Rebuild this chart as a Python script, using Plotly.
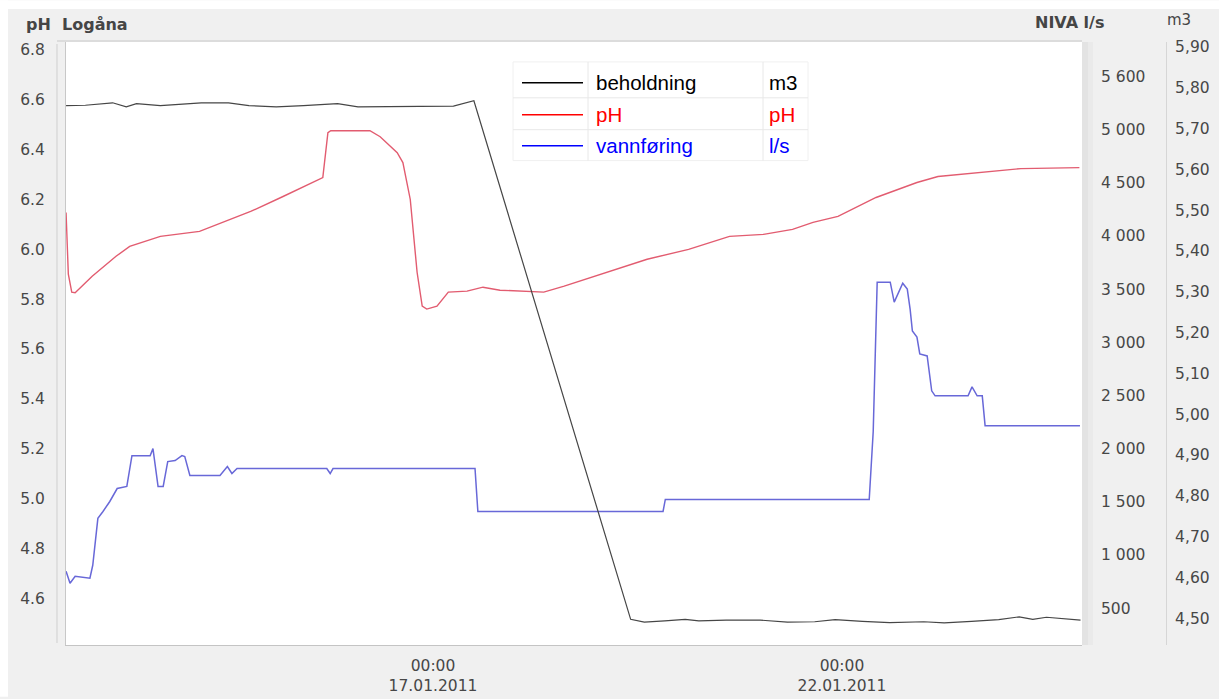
import plotly.graph_objects as go

# ---------------------------------------------------------------
# Measured series, Logåna station
# ---------------------------------------------------------------
# beholdning (storage), plotted on the "m3" axis
beh_time = [
    "2011-01-12 12:20", "2011-01-12 18:00", "2011-01-13 02:00", "2011-01-13 06:00",
    "2011-01-13 09:00", "2011-01-13 16:00", "2011-01-14 04:00", "2011-01-14 12:00",
    "2011-01-14 18:00", "2011-01-15 02:00", "2011-01-15 10:00", "2011-01-15 20:00",
    "2011-01-16 02:00", "2011-01-16 10:00", "2011-01-16 20:00", "2011-01-17 06:00",
    "2011-01-17 12:00", "2011-01-19 10:00", "2011-01-19 14:00", "2011-01-19 20:00",
    "2011-01-20 02:00", "2011-01-20 06:00", "2011-01-20 14:00", "2011-01-21 00:00",
    "2011-01-21 08:00", "2011-01-21 16:00", "2011-01-21 22:00", "2011-01-22 06:00",
    "2011-01-22 14:00", "2011-01-23 00:00", "2011-01-23 06:00", "2011-01-23 14:00",
    "2011-01-23 22:00", "2011-01-24 04:00", "2011-01-24 08:00", "2011-01-24 12:00",
    "2011-01-24 22:00",
]
beh_m3 = [
    5.756, 5.757, 5.763, 5.753,
    5.761, 5.756, 5.763, 5.763,
    5.756, 5.753, 5.756, 5.761,
    5.753, 5.753, 5.754, 5.755,
    5.768, 4.497, 4.490, 4.493,
    4.497, 4.493, 4.495, 4.495,
    4.490, 4.491, 4.496, 4.492,
    4.489, 4.491, 4.488, 4.492,
    4.496, 4.503, 4.497, 4.502,
    4.495,
]

# pH, plotted on the left axis
ph_time = [
    "2011-01-12 12:20", "2011-01-12 13:00", "2011-01-12 14:00", "2011-01-12 15:00",
    "2011-01-12 20:00", "2011-01-13 03:00", "2011-01-13 07:00", "2011-01-13 16:00",
    "2011-01-14 03:30", "2011-01-14 10:30", "2011-01-14 18:30", "2011-01-15 04:00",
    "2011-01-15 13:00", "2011-01-15 15:40", "2011-01-15 17:10", "2011-01-15 18:00",
    "2011-01-16 05:30", "2011-01-16 08:30", "2011-01-16 13:30", "2011-01-16 15:10",
    "2011-01-16 17:20", "2011-01-16 19:20", "2011-01-16 20:50", "2011-01-16 22:10",
    "2011-01-17 01:10", "2011-01-17 04:30", "2011-01-17 10:00", "2011-01-17 14:40",
    "2011-01-17 19:40", "2011-01-18 08:30", "2011-01-18 14:30", "2011-01-19 02:50",
    "2011-01-19 14:50", "2011-01-20 03:00", "2011-01-20 15:00", "2011-01-21 01:00",
    "2011-01-21 09:30", "2011-01-21 15:30", "2011-01-21 22:50", "2011-01-22 10:00",
    "2011-01-22 22:00", "2011-01-23 04:10", "2011-01-23 16:10", "2011-01-24 04:30",
    "2011-01-24 21:40",
]
ph_value = [
    6.148, 5.900, 5.828, 5.826,
    5.892, 5.972, 6.012, 6.052,
    6.072, 6.108, 6.152, 6.212,
    6.272, 6.288, 6.468, 6.476,
    6.476, 6.452, 6.388, 6.348,
    6.200, 5.908, 5.772, 5.760,
    5.772, 5.828, 5.832, 5.848,
    5.836, 5.828, 5.852, 5.908,
    5.960, 6.000, 6.052, 6.060,
    6.080, 6.108, 6.132, 6.208,
    6.268, 6.292, 6.308, 6.324,
    6.328,
]

# vannføring (discharge), plotted on the NIVA l/s axis
flow_time = [
    "2011-01-12 12:20", "2011-01-12 13:30", "2011-01-12 15:00", "2011-01-12 19:20",
    "2011-01-12 20:10", "2011-01-12 21:40", "2011-01-12 23:10", "2011-01-13 01:10",
    "2011-01-13 03:20", "2011-01-13 06:10", "2011-01-13 07:40", "2011-01-13 13:00",
    "2011-01-13 13:50", "2011-01-13 15:20", "2011-01-13 16:50", "2011-01-13 18:10",
    "2011-01-13 20:20", "2011-01-13 22:20", "2011-01-13 23:10", "2011-01-14 00:40",
    "2011-01-14 09:30", "2011-01-14 11:40", "2011-01-14 13:00", "2011-01-14 14:30",
    "2011-01-15 16:50", "2011-01-15 17:50", "2011-01-15 18:40", "2011-01-17 12:20",
    "2011-01-17 13:10", "2011-01-19 19:30", "2011-01-19 20:10", "2011-01-22 08:00",
    "2011-01-22 09:10", "2011-01-22 10:00", "2011-01-22 10:20", "2011-01-22 14:10",
    "2011-01-22 15:20", "2011-01-22 17:50", "2011-01-22 19:10", "2011-01-22 20:00",
    "2011-01-22 20:40", "2011-01-22 22:00", "2011-01-22 22:50", "2011-01-23 01:00",
    "2011-01-23 02:20", "2011-01-23 03:20", "2011-01-23 13:00", "2011-01-23 14:10",
    "2011-01-23 15:40", "2011-01-23 17:10", "2011-01-23 18:00", "2011-01-24 21:50",
]
flow_ls = [
    847, 734, 800, 781,
    903, 1344, 1409, 1503,
    1625, 1644, 1934, 1934,
    2000, 1644, 1644, 1878,
    1888, 1934, 1925, 1747,
    1747, 1831, 1766, 1813,
    1813, 1766, 1813, 1813,
    1409, 1409, 1522, 1522,
    2159, 3313, 3566, 3566,
    3378, 3556, 3500, 3313,
    3106, 3050, 2891, 2872,
    2544, 2497, 2497, 2581,
    2497, 2497, 2216, 2216,
]

# Legend table: name, unit, text colour, line colour
series_names = ["beholdning", "pH", "vannføring"]
series_units = ["m3", "pH", "l/s"]
legend_colors = ["#000000", "#ff0000", "#0000ff"]
line_colors = ["rgb(70,70,70)", "rgb(226,92,112)", "rgb(104,104,216)"]

# Axis ticks
ph_ticks = [4.6, 4.8, 5.0, 5.2, 5.4, 5.6, 5.8, 6.0, 6.2, 6.4, 6.6, 6.8]
flow_tick_values = [500, 1000, 1500, 2000, 2500, 3000, 3500, 4000, 4500, 5000, 5500]
flow_tick_text = ["500", "1 000", "1 500", "2 000", "2 500", "3 000", "3 500",
                  "4 000", "4 500", "5 000", "5 600"]
m3_tick_values = [4.5, 4.6, 4.7, 4.8, 4.9, 5.0, 5.1, 5.2, 5.3, 5.4, 5.5, 5.6, 5.7, 5.8, 5.9]
m3_tick_text = ["4,50", "4,60", "4,70", "4,80", "4,90", "5,00", "5,10", "5,20",
                "5,30", "5,40", "5,50", "5,60", "5,70", "5,80", "5,90"]
x_tick_values = ["2011-01-17 00:00", "2011-01-22 00:00"]
x_tick_text = ["00:00<br>17.01.2011", "00:00<br>22.01.2011"]

# ---------------------------------------------------------------
# Page geometry (pixels)
# ---------------------------------------------------------------
W, H = 1219, 699
ML, MR, MT, MB = 66, 4, 42, 52
PW, PH = W - ML - MR, H - MT - MB
PLOT_RIGHT = 1082


def px_x(px):
    return (px - ML) / PW


def px_y(py):
    return (H - MB - py) / PH


TICK_FONT = dict(family="DejaVu Sans, Arial", size=15.5, color="#474747")
LEG_FONT = "Liberation Sans, Arial"

fig = go.Figure()

fig.add_trace(go.Scatter(x=beh_time, y=beh_m3, mode="lines", yaxis="y3",
                         name=series_names[0],
                         line=dict(color=line_colors[0], width=1.2)))
fig.add_trace(go.Scatter(x=ph_time, y=ph_value, mode="lines", yaxis="y",
                         name=series_names[1],
                         line=dict(color=line_colors[1], width=1.4)))
fig.add_trace(go.Scatter(x=flow_time, y=flow_ls, mode="lines", yaxis="y2",
                         name=series_names[2],
                         line=dict(color=line_colors[2], width=1.5)))

shapes = []
# white outer strips along top and left
shapes.append(dict(type="rect", xref="paper", yref="paper", layer="below",
                   x0=px_x(0), x1=px_x(W), y0=px_y(9), y1=px_y(0),
                   fillcolor="white", line=dict(width=0)))
shapes.append(dict(type="rect", xref="paper", yref="paper", layer="below",
                   x0=px_x(0), x1=px_x(8), y0=px_y(H), y1=px_y(0),
                   fillcolor="white", line=dict(width=0)))
# frame lines around the plot area
shapes.append(dict(type="line", xref="paper", yref="paper",
                   x0=px_x(57), x1=px_x(57), y0=px_y(645), y1=px_y(44),
                   line=dict(color="#cfcfcf", width=1)))
shapes.append(dict(type="line", xref="paper", yref="paper",
                   x0=px_x(57), x1=px_x(PLOT_RIGHT), y0=px_y(41), y1=px_y(41),
                   line=dict(color="#dcdcdc", width=2)))
shapes.append(dict(type="rect", xref="paper", yref="paper",
                   x0=px_x(PLOT_RIGHT), x1=px_x(PLOT_RIGHT + 6), y0=0, y1=1,
                   fillcolor="#e3e3e3", line=dict(width=0)))
shapes.append(dict(type="rect", xref="paper", yref="paper",
                   x0=px_x(PLOT_RIGHT + 6), x1=px_x(PLOT_RIGHT + 11), y0=0, y1=1,
                   fillcolor="#eaeaea", line=dict(width=0)))

# legend table
LEG_L, LEG_R, LEG_T, LEG_B = 513, 808, 62, 161
ROW_Y = [83, 115, 146]
SEP_Y = [98, 130]
COL_X = [588, 763]
shapes.append(dict(type="rect", xref="paper", yref="paper", layer="above",
                   x0=px_x(LEG_L), x1=px_x(LEG_R), y0=px_y(LEG_B), y1=px_y(LEG_T),
                   fillcolor="white", line=dict(color="#f0f0f0", width=1)))
for sy in SEP_Y:
    shapes.append(dict(type="line", xref="paper", yref="paper", layer="above",
                       x0=px_x(LEG_L), x1=px_x(LEG_R), y0=px_y(sy), y1=px_y(sy),
                       line=dict(color="#e8e8e8", width=1)))
for cx in COL_X:
    shapes.append(dict(type="line", xref="paper", yref="paper", layer="above",
                       x0=px_x(cx), x1=px_x(cx), y0=px_y(LEG_B), y1=px_y(LEG_T),
                       line=dict(color="#e8e8e8", width=1)))

annotations = []
for name, unit, tc, ry in zip(series_names, series_units, legend_colors, ROW_Y):
    shapes.append(dict(type="line", xref="paper", yref="paper", layer="above",
                       x0=px_x(522), x1=px_x(583), y0=px_y(ry), y1=px_y(ry),
                       line=dict(color=tc, width=1.5)))
    annotations.append(dict(xref="paper", yref="paper", x=px_x(594), y=px_y(ry),
                            text=name, showarrow=False, xanchor="left", yanchor="middle",
                            font=dict(family=LEG_FONT, size=20.5, color=tc)))
    annotations.append(dict(xref="paper", yref="paper", x=px_x(767), y=px_y(ry),
                            text=unit, showarrow=False, xanchor="left", yanchor="middle",
                            font=dict(family=LEG_FONT, size=20.5, color=tc)))

# axis headers
HEAD_FONT = dict(family="DejaVu Sans, Arial", size=16, color="#454545", weight="bold")
annotations.append(dict(xref="paper", yref="paper", x=px_x(24), y=px_y(24),
                        text="pH\u00a0 Logåna", showarrow=False,
                        xanchor="left", yanchor="middle", font=HEAD_FONT))
annotations.append(dict(xref="paper", yref="paper", x=px_x(1069), y=px_y(22),
                        text="NIVA l/s", showarrow=False,
                        xanchor="center", yanchor="middle", font=HEAD_FONT))
annotations.append(dict(xref="paper", yref="paper", x=px_x(1179), y=px_y(20),
                        text="m3", showarrow=False, xanchor="center", yanchor="middle",
                        font=dict(family="DejaVu Sans, Arial", size=15, color="#454545")))

fig.update_layout(
    width=W, height=H,
    margin=dict(l=ML, r=MR, t=MT, b=MB, pad=0),
    paper_bgcolor="#f0f0f0",
    plot_bgcolor="white",
    showlegend=False,
    xaxis=dict(
        type="date", domain=[0, px_x(PLOT_RIGHT)],
        range=["2011-01-12 12:19", "2011-01-24 22:26"],
        tickmode="array", tickvals=x_tick_values, ticktext=x_tick_text,
        showgrid=False, zeroline=False, showline=True, linecolor="#c4c4c4",
        ticks="", tickfont=TICK_FONT, ticklabelstandoff=6,
    ),
    yaxis=dict(
        range=[4.412, 6.832], tickmode="array", tickvals=ph_ticks, tickformat=".1f",
        showgrid=False, zeroline=False, showline=True, linecolor="#c8c8c8",
        ticks="", tickfont=TICK_FONT, ticklabelstandoff=17,
    ),
    yaxis2=dict(
        overlaying="y", anchor="free", side="right", position=px_x(1092),
        range=[153, 5825], tickmode="array",
        tickvals=flow_tick_values, ticktext=flow_tick_text,
        showgrid=False, zeroline=False, showline=False,
        ticks="", tickfont=TICK_FONT, ticklabelstandoff=8,
    ),
    yaxis3=dict(
        overlaying="y", anchor="free", side="right", position=px_x(1166),
        range=[4.434, 5.912], tickmode="array",
        tickvals=m3_tick_values, ticktext=m3_tick_text,
        showgrid=False, zeroline=False, showline=True, linecolor="#d6d6d6",
        ticks="", tickfont=TICK_FONT, ticklabelstandoff=5,
    ),
    shapes=shapes,
    annotations=annotations,
)

fig.write_html("out.html")
